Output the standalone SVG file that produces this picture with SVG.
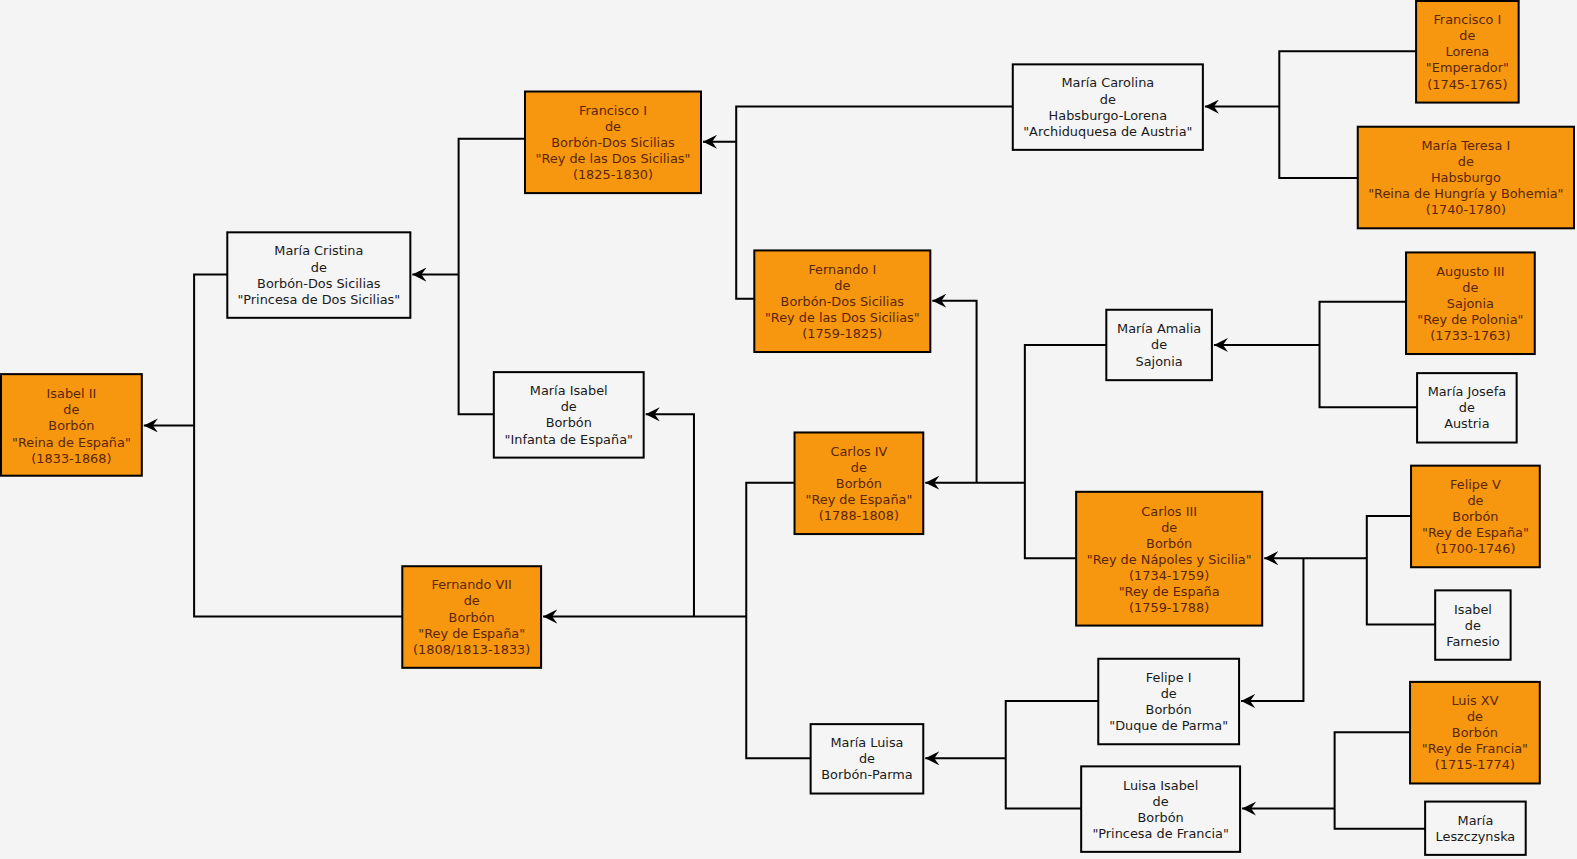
<svg xmlns="http://www.w3.org/2000/svg" width="1577" height="859" viewBox="0 0 1577 859">
<style>
.bg{fill:#f4f4f4}
.o rect{fill:#f7960f;stroke:#000;stroke-width:2}
.w rect{fill:#f5f5f5;stroke:#000;stroke-width:2}
text{font-family:"DejaVu Sans","Liberation Sans",sans-serif;font-size:12.8px;text-anchor:middle}
.o text{fill:#5a2608}
.w text{fill:#1a1a1a}
#connectors path{fill:none;stroke:#000;stroke-width:2}
</style>
<defs>
<marker id="arr" markerUnits="userSpaceOnUse" markerWidth="16" markerHeight="14" refX="14" refY="7" orient="auto">
<path d="M0,7 L14,0 L9,7 L14,14 Z" fill="#000" transform="rotate(180 7 7)"/>
</marker>
</defs>
<rect class="bg" x="0" y="0" width="1577" height="859"/>
<g id="diagram" transform="scale(1.00574)">
<g id="connectors">
<path d="M226,273 H193 V613 H400"/>
<path d="M193,423 H143" marker-end="url(#arr)"/>
<path d="M522,138 H456 V412 H491"/>
<path d="M456,273 H410" marker-end="url(#arr)"/>
<path d="M790,480 H742 V754 H806"/>
<path d="M742,613 H540" marker-end="url(#arr)"/>
<path d="M690,613 V412 H642" marker-end="url(#arr)"/>
<path d="M1007,106 H732 V297 H750"/>
<path d="M732,141 H699" marker-end="url(#arr)"/>
<path d="M1100,343 H1019 V555 H1070"/>
<path d="M1019,480 H920" marker-end="url(#arr)"/>
<path d="M971,480 V299 H927" marker-end="url(#arr)"/>
<path d="M1408,51 H1272 V177 H1350"/>
<path d="M1272,106 H1198" marker-end="url(#arr)"/>
<path d="M1398,300 H1312 V405 H1409"/>
<path d="M1312,343 H1207" marker-end="url(#arr)"/>
<path d="M1403,513 H1359 V621 H1427"/>
<path d="M1359,555 H1257" marker-end="url(#arr)"/>
<path d="M1296,555 V697 H1234" marker-end="url(#arr)"/>
<path d="M1092,697 H1000 V804 H1075"/>
<path d="M1000,754 H920" marker-end="url(#arr)"/>
<path d="M1402,728 H1327 V824 H1417"/>
<path d="M1327,804 H1235" marker-end="url(#arr)"/>
</g>
<g id="isabel2" class="o"><rect x="1" y="372" width="140" height="101"/><text x="71" y="396"><tspan x="71">Isabel II</tspan><tspan x="71" dy="16">de</tspan><tspan x="71" dy="16">Borbón</tspan><tspan x="71" dy="16">"Reina de España"</tspan><tspan x="71" dy="16">(1833-1868)</tspan></text></g>
<g id="mariacristina" class="w"><rect x="226" y="231" width="182" height="85"/><text x="317" y="254"><tspan x="317">María Cristina</tspan><tspan x="317" dy="16">de</tspan><tspan x="317" dy="16">Borbón-Dos Sicilias</tspan><tspan x="317" dy="16">"Princesa de Dos Sicilias"</tspan></text></g>
<g id="mariaisabel" class="w"><rect x="491" y="370" width="149" height="85"/><text x="565.5" y="393"><tspan x="565.5">María Isabel</tspan><tspan x="565.5" dy="16">de</tspan><tspan x="565.5" dy="16">Borbón</tspan><tspan x="565.5" dy="16">"Infanta de España"</tspan></text></g>
<g id="fernando7" class="o"><rect x="400" y="563" width="138" height="101"/><text x="469" y="586"><tspan x="469">Fernando VII</tspan><tspan x="469" dy="16">de</tspan><tspan x="469" dy="16">Borbón</tspan><tspan x="469" dy="16">"Rey de España"</tspan><tspan x="469" dy="16">(1808/1813-1833)</tspan></text></g>
<g id="francisco1" class="o"><rect x="522" y="91" width="175" height="101"/><text x="609.5" y="114"><tspan x="609.5">Francisco I</tspan><tspan x="609.5" dy="16">de</tspan><tspan x="609.5" dy="16">Borbón-Dos Sicilias</tspan><tspan x="609.5" dy="16">"Rey de las Dos Sicilias"</tspan><tspan x="609.5" dy="16">(1825-1830)</tspan></text></g>
<g id="fernando1" class="o"><rect x="750" y="249" width="175" height="101"/><text x="837.5" y="272"><tspan x="837.5">Fernando I</tspan><tspan x="837.5" dy="16">de</tspan><tspan x="837.5" dy="16">Borbón-Dos Sicilias</tspan><tspan x="837.5" dy="16">"Rey de las Dos Sicilias"</tspan><tspan x="837.5" dy="16">(1759-1825)</tspan></text></g>
<g id="carlos4" class="o"><rect x="790" y="430" width="128" height="101"/><text x="854" y="453"><tspan x="854">Carlos IV</tspan><tspan x="854" dy="16">de</tspan><tspan x="854" dy="16">Borbón</tspan><tspan x="854" dy="16">"Rey de España"</tspan><tspan x="854" dy="16">(1788-1808)</tspan></text></g>
<g id="marialuisa" class="w"><rect x="806" y="720" width="112" height="69"/><text x="862" y="743"><tspan x="862">María Luisa</tspan><tspan x="862" dy="16">de</tspan><tspan x="862" dy="16">Borbón-Parma</tspan></text></g>
<g id="mariacarolina" class="w"><rect x="1007" y="64" width="189" height="85"/><text x="1101.5" y="87"><tspan x="1101.5">María Carolina</tspan><tspan x="1101.5" dy="16">de</tspan><tspan x="1101.5" dy="16">Habsburgo-Lorena</tspan><tspan x="1101.5" dy="16">"Archiduquesa de Austria"</tspan></text></g>
<g id="mariaamalia" class="w"><rect x="1100" y="308" width="105" height="70"/><text x="1152.5" y="331.5"><tspan x="1152.5">María Amalia</tspan><tspan x="1152.5" dy="16">de</tspan><tspan x="1152.5" dy="16">Sajonia</tspan></text></g>
<g id="carlos3" class="o"><rect x="1070" y="489" width="185" height="133"/><text x="1162.5" y="513"><tspan x="1162.5">Carlos III</tspan><tspan x="1162.5" dy="16">de</tspan><tspan x="1162.5" dy="16">Borbón</tspan><tspan x="1162.5" dy="16">"Rey de Nápoles y Sicilia"</tspan><tspan x="1162.5" dy="16">(1734-1759)</tspan><tspan x="1162.5" dy="16">"Rey de España</tspan><tspan x="1162.5" dy="16">(1759-1788)</tspan></text></g>
<g id="felipe1" class="w"><rect x="1092" y="655" width="140" height="85"/><text x="1162" y="678"><tspan x="1162">Felipe I</tspan><tspan x="1162" dy="16">de</tspan><tspan x="1162" dy="16">Borbón</tspan><tspan x="1162" dy="16">"Duque de Parma"</tspan></text></g>
<g id="luisaisabel" class="w"><rect x="1075" y="762" width="158" height="85"/><text x="1154" y="785"><tspan x="1154">Luisa Isabel</tspan><tspan x="1154" dy="16">de</tspan><tspan x="1154" dy="16">Borbón</tspan><tspan x="1154" dy="16">"Princesa de Francia"</tspan></text></g>
<g id="franciscolorena" class="o"><rect x="1408" y="1" width="102" height="101"/><text x="1459" y="24"><tspan x="1459">Francisco I</tspan><tspan x="1459" dy="16">de</tspan><tspan x="1459" dy="16">Lorena</tspan><tspan x="1459" dy="16">"Emperador"</tspan><tspan x="1459" dy="16">(1745-1765)</tspan></text></g>
<g id="mariateresa" class="o"><rect x="1350" y="126" width="215" height="101"/><text x="1457.5" y="149"><tspan x="1457.5">María Teresa I</tspan><tspan x="1457.5" dy="16">de</tspan><tspan x="1457.5" dy="16">Habsburgo</tspan><tspan x="1457.5" dy="16">"Reina de Hungría y Bohemia"</tspan><tspan x="1457.5" dy="16">(1740-1780)</tspan></text></g>
<g id="augusto3" class="o"><rect x="1398" y="251" width="128" height="101"/><text x="1462" y="274"><tspan x="1462">Augusto III</tspan><tspan x="1462" dy="16">de</tspan><tspan x="1462" dy="16">Sajonia</tspan><tspan x="1462" dy="16">"Rey de Polonia"</tspan><tspan x="1462" dy="16">(1733-1763)</tspan></text></g>
<g id="mariajosefa" class="w"><rect x="1409" y="371" width="99" height="69"/><text x="1458.5" y="394"><tspan x="1458.5">María Josefa</tspan><tspan x="1458.5" dy="16">de</tspan><tspan x="1458.5" dy="16">Austria</tspan></text></g>
<g id="felipe5" class="o"><rect x="1403" y="463" width="128" height="101"/><text x="1467" y="486"><tspan x="1467">Felipe V</tspan><tspan x="1467" dy="16">de</tspan><tspan x="1467" dy="16">Borbón</tspan><tspan x="1467" dy="16">"Rey de España"</tspan><tspan x="1467" dy="16">(1700-1746)</tspan></text></g>
<g id="isabelfarnesio" class="w"><rect x="1427" y="587" width="75" height="69"/><text x="1464.5" y="610"><tspan x="1464.5">Isabel</tspan><tspan x="1464.5" dy="16">de</tspan><tspan x="1464.5" dy="16">Farnesio</tspan></text></g>
<g id="luis15" class="o"><rect x="1402" y="678" width="129" height="101"/><text x="1466.5" y="701"><tspan x="1466.5">Luis XV</tspan><tspan x="1466.5" dy="16">de</tspan><tspan x="1466.5" dy="16">Borbón</tspan><tspan x="1466.5" dy="16">"Rey de Francia"</tspan><tspan x="1466.5" dy="16">(1715-1774)</tspan></text></g>
<g id="marialeszczynska" class="w"><rect x="1417" y="797" width="100" height="53"/><text x="1467" y="820"><tspan x="1467">María</tspan><tspan x="1467" dy="16">Leszczynska</tspan></text></g>
</g>
</svg>
